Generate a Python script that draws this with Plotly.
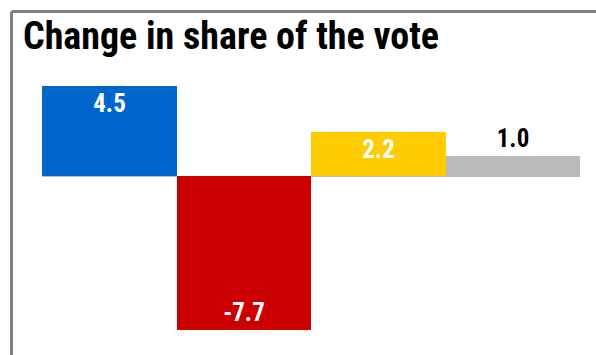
import plotly.graph_objects as go

categories = ["A", "B", "C", "D"]
values = [4.5, -7.7, 2.2, 1.0]
labels = ["4.5", "-7.7", "2.2", "1.0"]
colors = ["#0066CC", "#CC0000", "#FFCC00", "#BBBBBB"]
text_colors = ["white", "white", "white", "black"]
text_positions = ["inside", "inside", "inside", "outside"]

W, H = 596, 355
ml, mr, mt, mb = 42, 16, 66, 19
y_range = [-8.0, 5.5]
pw = W - ml - mr
ph = H - mt - mb

def px_to_paper_x(px):
    return (px - ml) / pw

def px_to_paper_y(py):
    return 1 - (py - mt) / ph

font_narrow = "Roboto Condensed, Liberation Sans Narrow, Roboto, sans-serif"

fig = go.Figure(go.Bar(
    x=categories, y=values, text=labels,
    marker=dict(color=colors, line=dict(width=0)),
    textposition=text_positions,
    insidetextanchor="end",
    textangle=0,
    textfont=dict(family=font_narrow, size=25, color=text_colors, weight="bold"),
    cliponaxis=False,
    hoverinfo="skip",
))

fig.update_layout(
    width=W, height=H,
    margin=dict(l=ml, r=mr, t=mt, b=mb),
    paper_bgcolor="white", plot_bgcolor="white",
    bargap=0, showlegend=False,
    xaxis=dict(visible=False),
    yaxis=dict(visible=True, range=y_range, showgrid=False, showticklabels=False,
               zeroline=True, zerolinecolor="#BBBBBB", zerolinewidth=1, ticks=""),
    uniformtext=dict(mode=False),
    shapes=[
        dict(type="line", xref="paper", yref="paper",
             x0=px_to_paper_x(11.5), x1=px_to_paper_x(600),
             y0=px_to_paper_y(11.5), y1=px_to_paper_y(11.5),
             line=dict(color="#808080", width=3)),
        dict(type="line", xref="paper", yref="paper",
             x0=px_to_paper_x(11.5), x1=px_to_paper_x(11.5),
             y0=px_to_paper_y(11.5), y1=px_to_paper_y(360),
             line=dict(color="#808080", width=3)),
    ],
    annotations=[dict(
        text="<b>Change in share of the vote</b>", xref="paper", yref="paper",
        x=px_to_paper_x(21), y=px_to_paper_y(36), xanchor="left", yanchor="middle",
        showarrow=False,
        font=dict(family=font_narrow, size=38, color="black"),
    )],
)

fig.write_html("out.html", config={"displayModeBar": False},
               post_script="document.body.style.margin='0';")
